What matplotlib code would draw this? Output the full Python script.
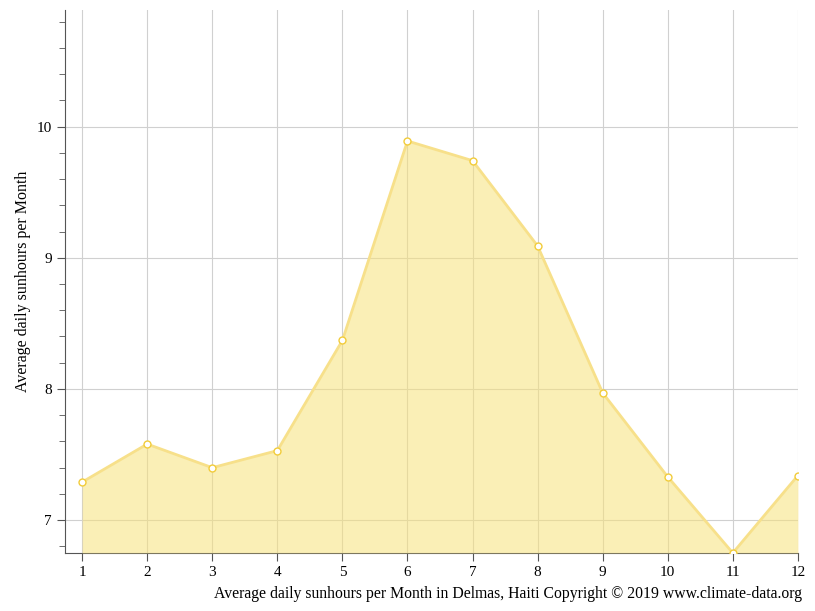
import matplotlib
matplotlib.use("Agg")
import matplotlib.pyplot as plt
from matplotlib.ticker import MultipleLocator

plt.rcParams['font.family'] = ['Liberation Serif', 'DejaVu Serif']

months = [1, 2, 3, 4, 5, 6, 7, 8, 9, 10, 11, 12]
sunhours = [7.29, 7.58, 7.40, 7.53, 8.37, 9.89, 9.74, 9.09, 7.97, 7.33, 6.75, 7.34]

fig = plt.figure(figsize=(8.15, 6.11), dpi=100)
ax = fig.add_axes([0.08, 0.095, 0.899, 0.889])
ymin = 6.75
ax.fill_between(months, sunhours, ymin, color='#f7e27a', alpha=0.55, lw=0, zorder=3)
ax.plot(months, sunhours, color='#f7e08a', lw=2, zorder=4)
ax.plot(months, sunhours, 'o', ms=5, mfc='white', mec='#f2cc3a', mew=1, zorder=5)

ax.set_xlim(0.74, 12)
ax.set_ylim(ymin, 10.89)
ax.set_xticks(months)
ax.set_yticks([7, 8, 9, 10])
ax.yaxis.set_minor_locator(MultipleLocator(0.2))
ax.grid(True, color='#d0d0d0', lw=0.8)
ax.set_axisbelow(True)
for s in ['top', 'right']:
    ax.spines[s].set_visible(False)
ax.spines['left'].set_color('#555555')
ax.spines['bottom'].set_color('#555555')
ax.tick_params(axis='both', labelsize=11, color='#555555', length=6)
ax.tick_params(axis='y', which='minor', length=4, color='#555555')
ax.set_ylabel('Average daily sunhours per Month', fontsize=11.5)
fig.text(0.984, 0.015, 'Average daily sunhours per Month in Delmas, Haiti Copyright © 2019 www.climate-data.org',
         ha='right', va='bottom', fontsize=11.3)
fig.savefig('out.png', dpi=100)
